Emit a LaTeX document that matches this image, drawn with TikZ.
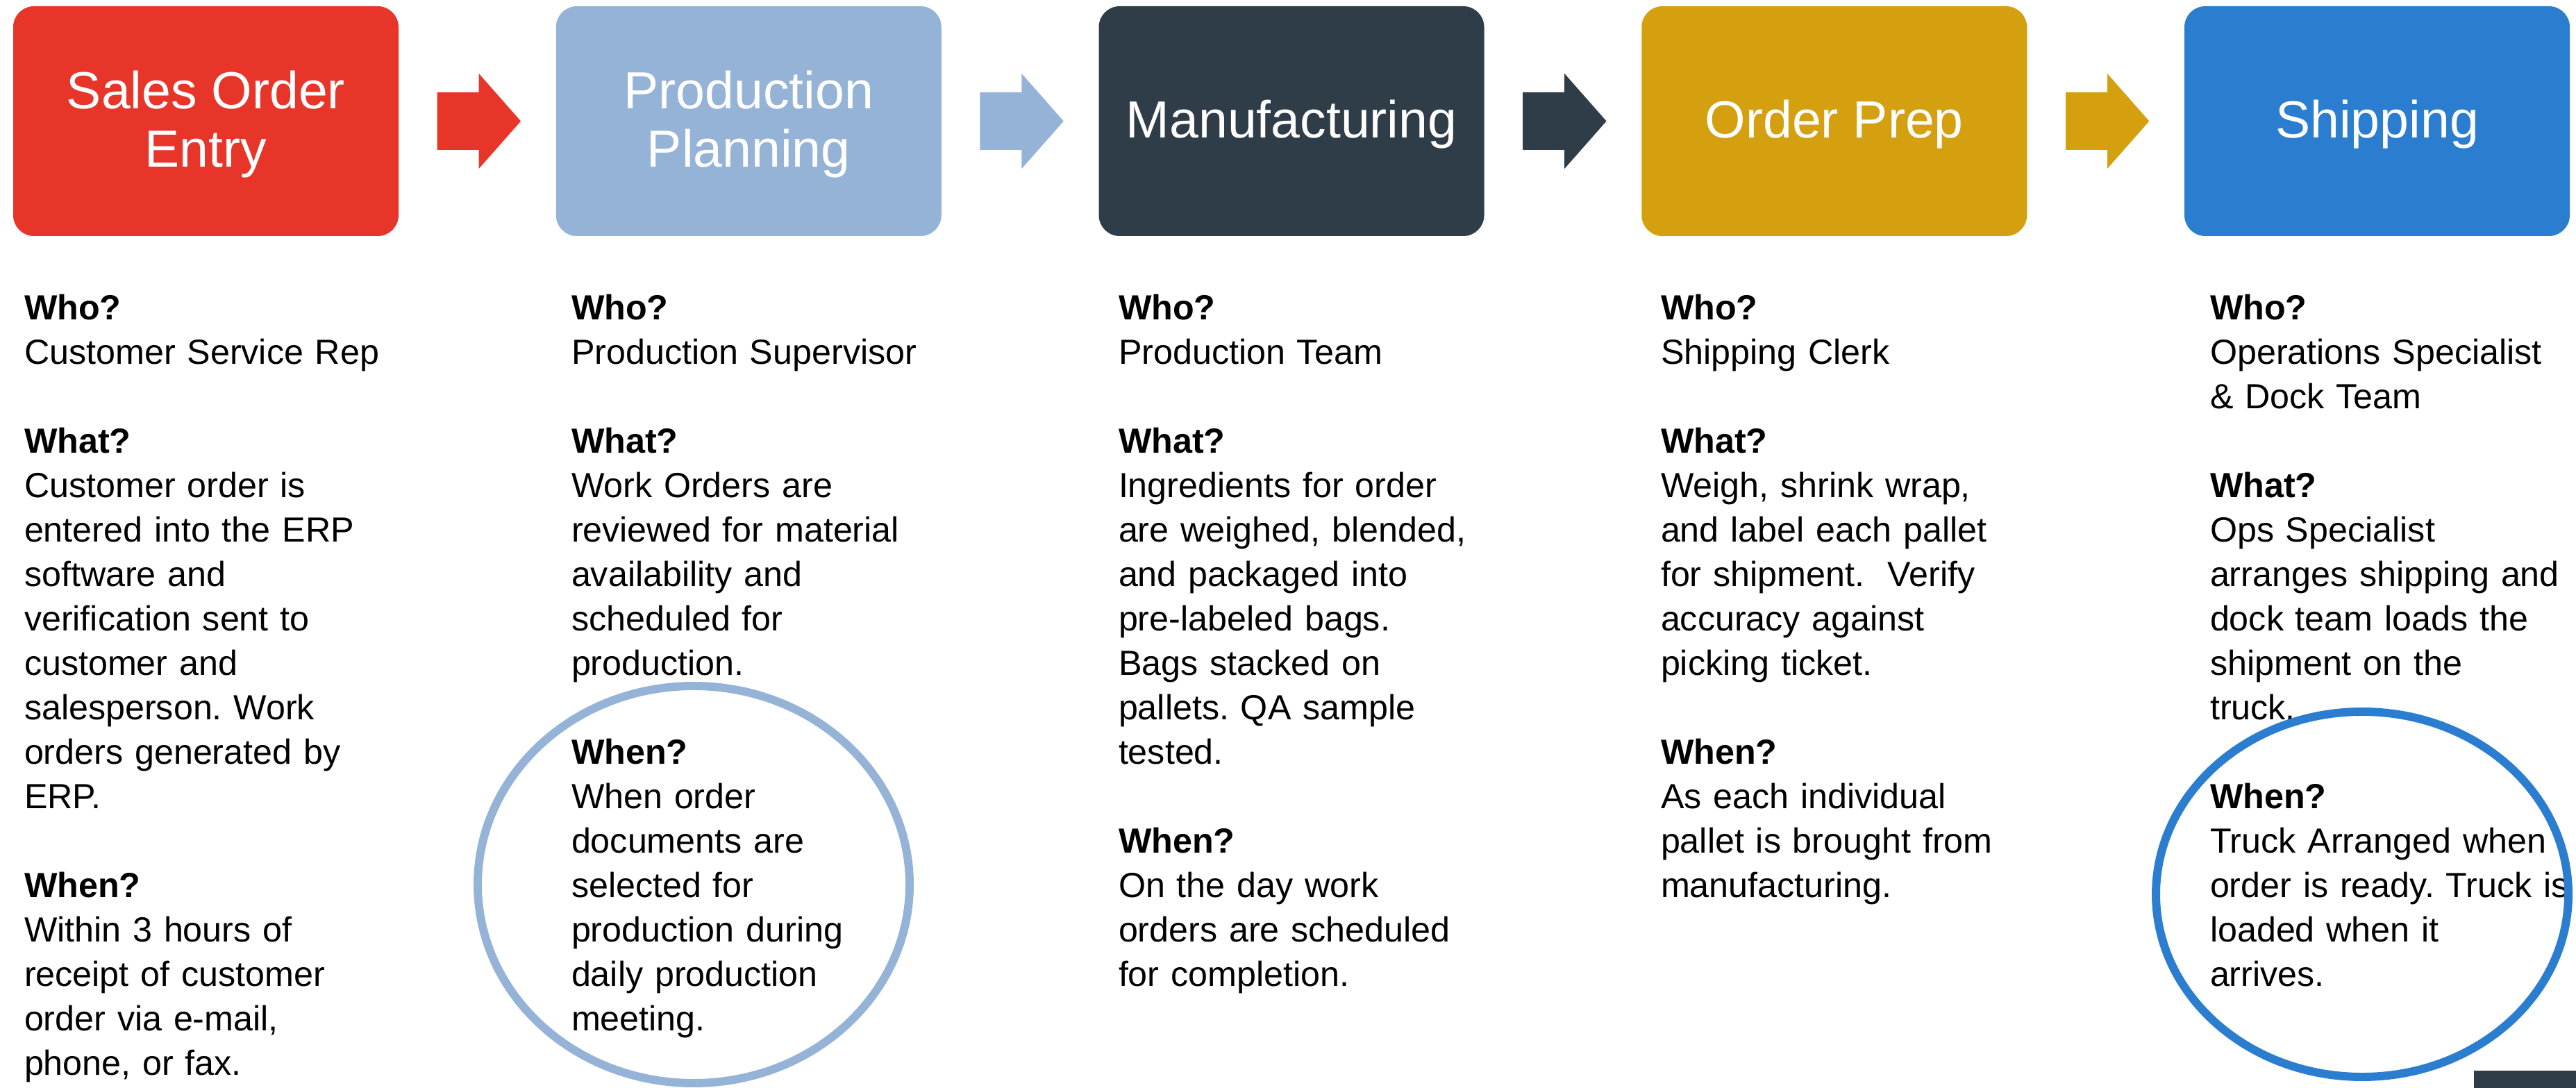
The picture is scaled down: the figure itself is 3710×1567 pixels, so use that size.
\documentclass[tikz,border=0pt]{standalone}
\usepackage{fontspec}
\setmainfont{Liberation Sans}
\usetikzlibrary{calc}
\frenchspacing
\definecolor{entryred}{HTML}{E8352A}
\definecolor{planblue}{HTML}{95B3D7}
\definecolor{mfgslate}{HTML}{2E3D48}
\definecolor{prepgold}{HTML}{D4A010}
\definecolor{shipblue}{HTML}{2A7DCF}
\tikzset{
  stage/.style      = {rounded corners=3mm, minimum width=55.5mm, minimum height=33.1mm, inner sep=0pt},
  stagetitle/.style = {text=white, align=center, inner sep=0pt, font=\fontsize{21.4}{23.9}\selectfont},
  notes/.style      = {anchor=base west, inner sep=0pt, outer sep=0pt, text width=56mm, align=left,
                       font=\fontsize{14.3}{18.2}\selectfont},
  ring/.style       = {line width=3.4pt},
}
\newcommand{\ask}[1]{\textbf{#1}}
\newcommand{\gap}{\\[\baselineskip]}

\begin{document}
\begin{tikzpicture}[x=0.1mm,y=-0.1mm]
\path[use as bounding box] (0,0) rectangle (3710,1567);

% ---- the five stages ----------------------------------------------------
\foreach \n/\col/\title [count=\i from 0] in {%
  entry/entryred/{Sales Order\\Entry},
  plan/planblue/{Production\\Planning},
  mfg/mfgslate/{Manufacturing},
  prep/prepgold/{Order Prep},
  ship/shipblue/{Shipping}} {
  \node[stage, fill=\col] (\n) at (296.5+781.75*\i,174.5) {};
  \node[stagetitle] (\n title) at ($(\n)+(0,5)$) {\title};
}

% block arrows, coloured after the stage they leave
\foreach \a/\b/\col in {entry/plan/entryred, plan/mfg/planblue, mfg/prep/mfgslate, prep/ship/prepgold} {
  \fill[\col] ($(\a.east)+(55,-41.5)$) -- ($(\a.east)+(115,-41.5)$) -- ($(\a.east)+(115,-68.5)$)
    -- ($(\b.west)+(-50,0)$)
    -- ($(\a.east)+(115,68.5)$) -- ($(\a.east)+(115,41.5)$) -- ($(\a.east)+(55,41.5)$) -- cycle;
}

% ---- who / what / when under each stage ---------------------------------
\node[notes] (entrytxt) at (35,461) {%
  \ask{Who?}\\Customer Service Rep\gap
  \ask{What?}\\Customer order is\\entered into the ERP\\software and\\verification sent to\\customer and\\salesperson. Work\\orders generated by\\ERP.\gap
  \ask{When?}\\Within 3 hours of\\receipt of customer\\order via e-mail,\\phone, or fax.};

\node[notes] (plantxt) at (823,461) {%
  \ask{Who?}\\Production Supervisor\gap
  \ask{What?}\\Work Orders are\\reviewed for material\\availability and\\scheduled for\\production.\gap
  \ask{When?}\\When order\\documents are\\selected for\\production during\\daily production\\meeting.};

\node[notes] (mfgtxt) at (1611,461) {%
  \ask{Who?}\\Production Team\gap
  \ask{What?}\\Ingredients for order\\are weighed, blended,\\and packaged into\\pre-labeled bags.\\Bags stacked on\\pallets. QA sample\\tested.\gap
  \ask{When?}\\On the day work\\orders are scheduled\\for completion.};

\node[notes] (preptxt) at (2392,461) {%
  \ask{Who?}\\Shipping Clerk\gap
  \ask{What?}\\Weigh, shrink wrap,\\and label each pallet\\for shipment.\ \ Verify\\accuracy against\\picking ticket.\gap
  \ask{When?}\\As each individual\\pallet is brought from\\manufacturing.};

\node[notes] (shiptxt) at (3183,461) {%
  \ask{Who?}\\Operations Specialist\\\& Dock Team\gap
  \ask{What?}\\Ops Specialist\\arranges shipping and\\dock team loads the\\shipment on the\\truck.\gap
  \ask{When?}\\Truck Arranged when\\order is ready. Truck is\\loaded when it\\arrives.};

% rings round the two "when" answers
\draw[ring, planblue] (999,1274) ellipse [x radius=311, y radius=286];
\draw[ring, shipblue] (3402,1288) ellipse [x radius=297, y radius=263];

\fill[mfgslate] (3563,1542) rectangle (3710,1567);

\end{tikzpicture}
\end{document}
